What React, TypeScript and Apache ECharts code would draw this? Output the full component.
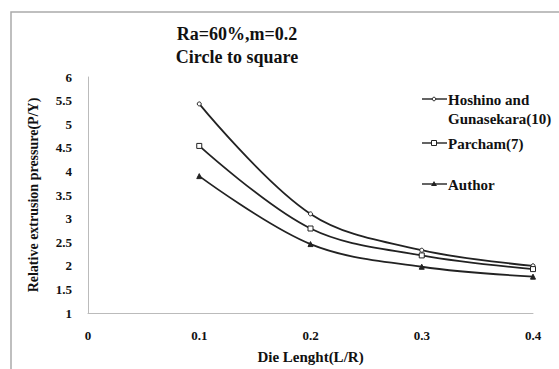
import React, { useEffect, useRef } from "react";
import * as echarts from "echarts";

const xValues = [0.1, 0.2, 0.3, 0.4];
const hoshino = [5.43, 3.1, 2.33, 2.0];
const parcham = [4.54, 2.79, 2.22, 1.93];
const author = [3.9, 2.46, 1.98, 1.77];
const seriesNames = ["Hoshino and\nGunasekara(10)", "Parcham(7)", "Author"];

const FONT = "Liberation Serif";

export default function App() {
  const ref = useRef<HTMLDivElement>(null);
  useEffect(() => {
    if (!ref.current) return;
    const chart = echarts.init(ref.current, undefined, { renderer: "svg" });
    const mk = (arr: number[]) => xValues.map((x, i) => [x, arr[i]]);
    const lineStyle = { color: "#222", width: 1.8 };
    const legendY = [99, 143, 184];
    const legendGraphics: any[] = [];
    legendY.forEach((y, i) => {
      legendGraphics.push({
        type: "line",
        shape: { x1: 422, y1: y, x2: 447, y2: y },
        style: { stroke: "#222", lineWidth: 1.4 },
      });
      if (i === 0) {
        legendGraphics.push({ type: "circle", shape: { cx: 434, cy: y, r: 1.8 }, style: { fill: "#fff", stroke: "#222", lineWidth: 1 } });
      } else if (i === 1) {
        legendGraphics.push({ type: "rect", shape: { x: 431.5, y: y - 2.5, width: 5, height: 5 }, style: { fill: "#fff", stroke: "#222", lineWidth: 1 } });
      } else {
        legendGraphics.push({ type: "polygon", shape: { points: [[434, y - 3], [437, y + 2], [431, y + 2]] }, style: { fill: "#222" } });
      }
      legendGraphics.push({
        type: "text",
        x: 448,
        y: y - 9,
        style: { text: seriesNames[i], fontFamily: FONT, fontWeight: "bold", fontSize: 15, fill: "#111", lineHeight: 19 },
      });
    });
    chart.setOption({
      animation: false,
      backgroundColor: "#fff",
      title: {
        text: "Ra=60%,m=0.2\nCircle to square",
        left: 232,
        textAlign: "center",
        top: 17,
        textStyle: { fontFamily: FONT, fontWeight: "bold", fontSize: 18, color: "#111", lineHeight: 23 },
      },
      grid: { left: 88, right: 26, top: 77, bottom: 54 },
      xAxis: {
        type: "value",
        min: 0,
        max: 0.4,
        interval: 0.1,
        name: "Die Lenght(L/R)",
        nameLocation: "middle",
        nameGap: 36,
        nameTextStyle: { fontFamily: FONT, fontWeight: "bold", fontSize: 15, color: "#111" },
        axisLine: { lineStyle: { color: "#bbb" } },
        axisTick: { show: false },
        splitLine: { show: false },
        axisLabel: { fontFamily: FONT, fontWeight: "bold", fontSize: 13, color: "#111", margin: 16 },
      },
      yAxis: {
        type: "value",
        min: 1,
        max: 6,
        interval: 0.5,
        name: "Relative extrusion pressure(P/Y)",
        nameLocation: "middle",
        nameGap: 48,
        nameTextStyle: { fontFamily: FONT, fontWeight: "bold", fontSize: 14, color: "#111" },
        axisLine: { show: true, lineStyle: { color: "#bbb" } },
        axisTick: { show: false },
        splitLine: { show: false },
        axisLabel: { fontFamily: FONT, fontWeight: "bold", fontSize: 13, color: "#111", margin: 16 },
      },
      series: [
        { name: "Hoshino", type: "line", smooth: 0.35, data: mk(hoshino), symbol: "circle", symbolSize: 4, lineStyle, itemStyle: { color: "#fff", borderColor: "#222", borderWidth: 1 } },
        { name: "Parcham", type: "line", smooth: 0.35, data: mk(parcham), symbol: "rect", symbolSize: 5, lineStyle, itemStyle: { color: "#fff", borderColor: "#222", borderWidth: 1 } },
        { name: "Author", type: "line", smooth: 0.35, data: mk(author), symbol: "triangle", symbolSize: 5, lineStyle, itemStyle: { color: "#222", borderColor: "#222", borderWidth: 1 } },
      ],
      graphic: [
        { type: "rect", shape: { x: 11, y: 12, width: 600, height: 400 }, style: { fill: "none", stroke: "#aaa", lineWidth: 1.5 }, z: -1 },
        ...legendGraphics,
      ],
    });
    return () => chart.dispose();
  }, []);
  return <div ref={ref} style={{ position: "absolute", left: 0, top: 0, width: 559, height: 369 }} />;
}
